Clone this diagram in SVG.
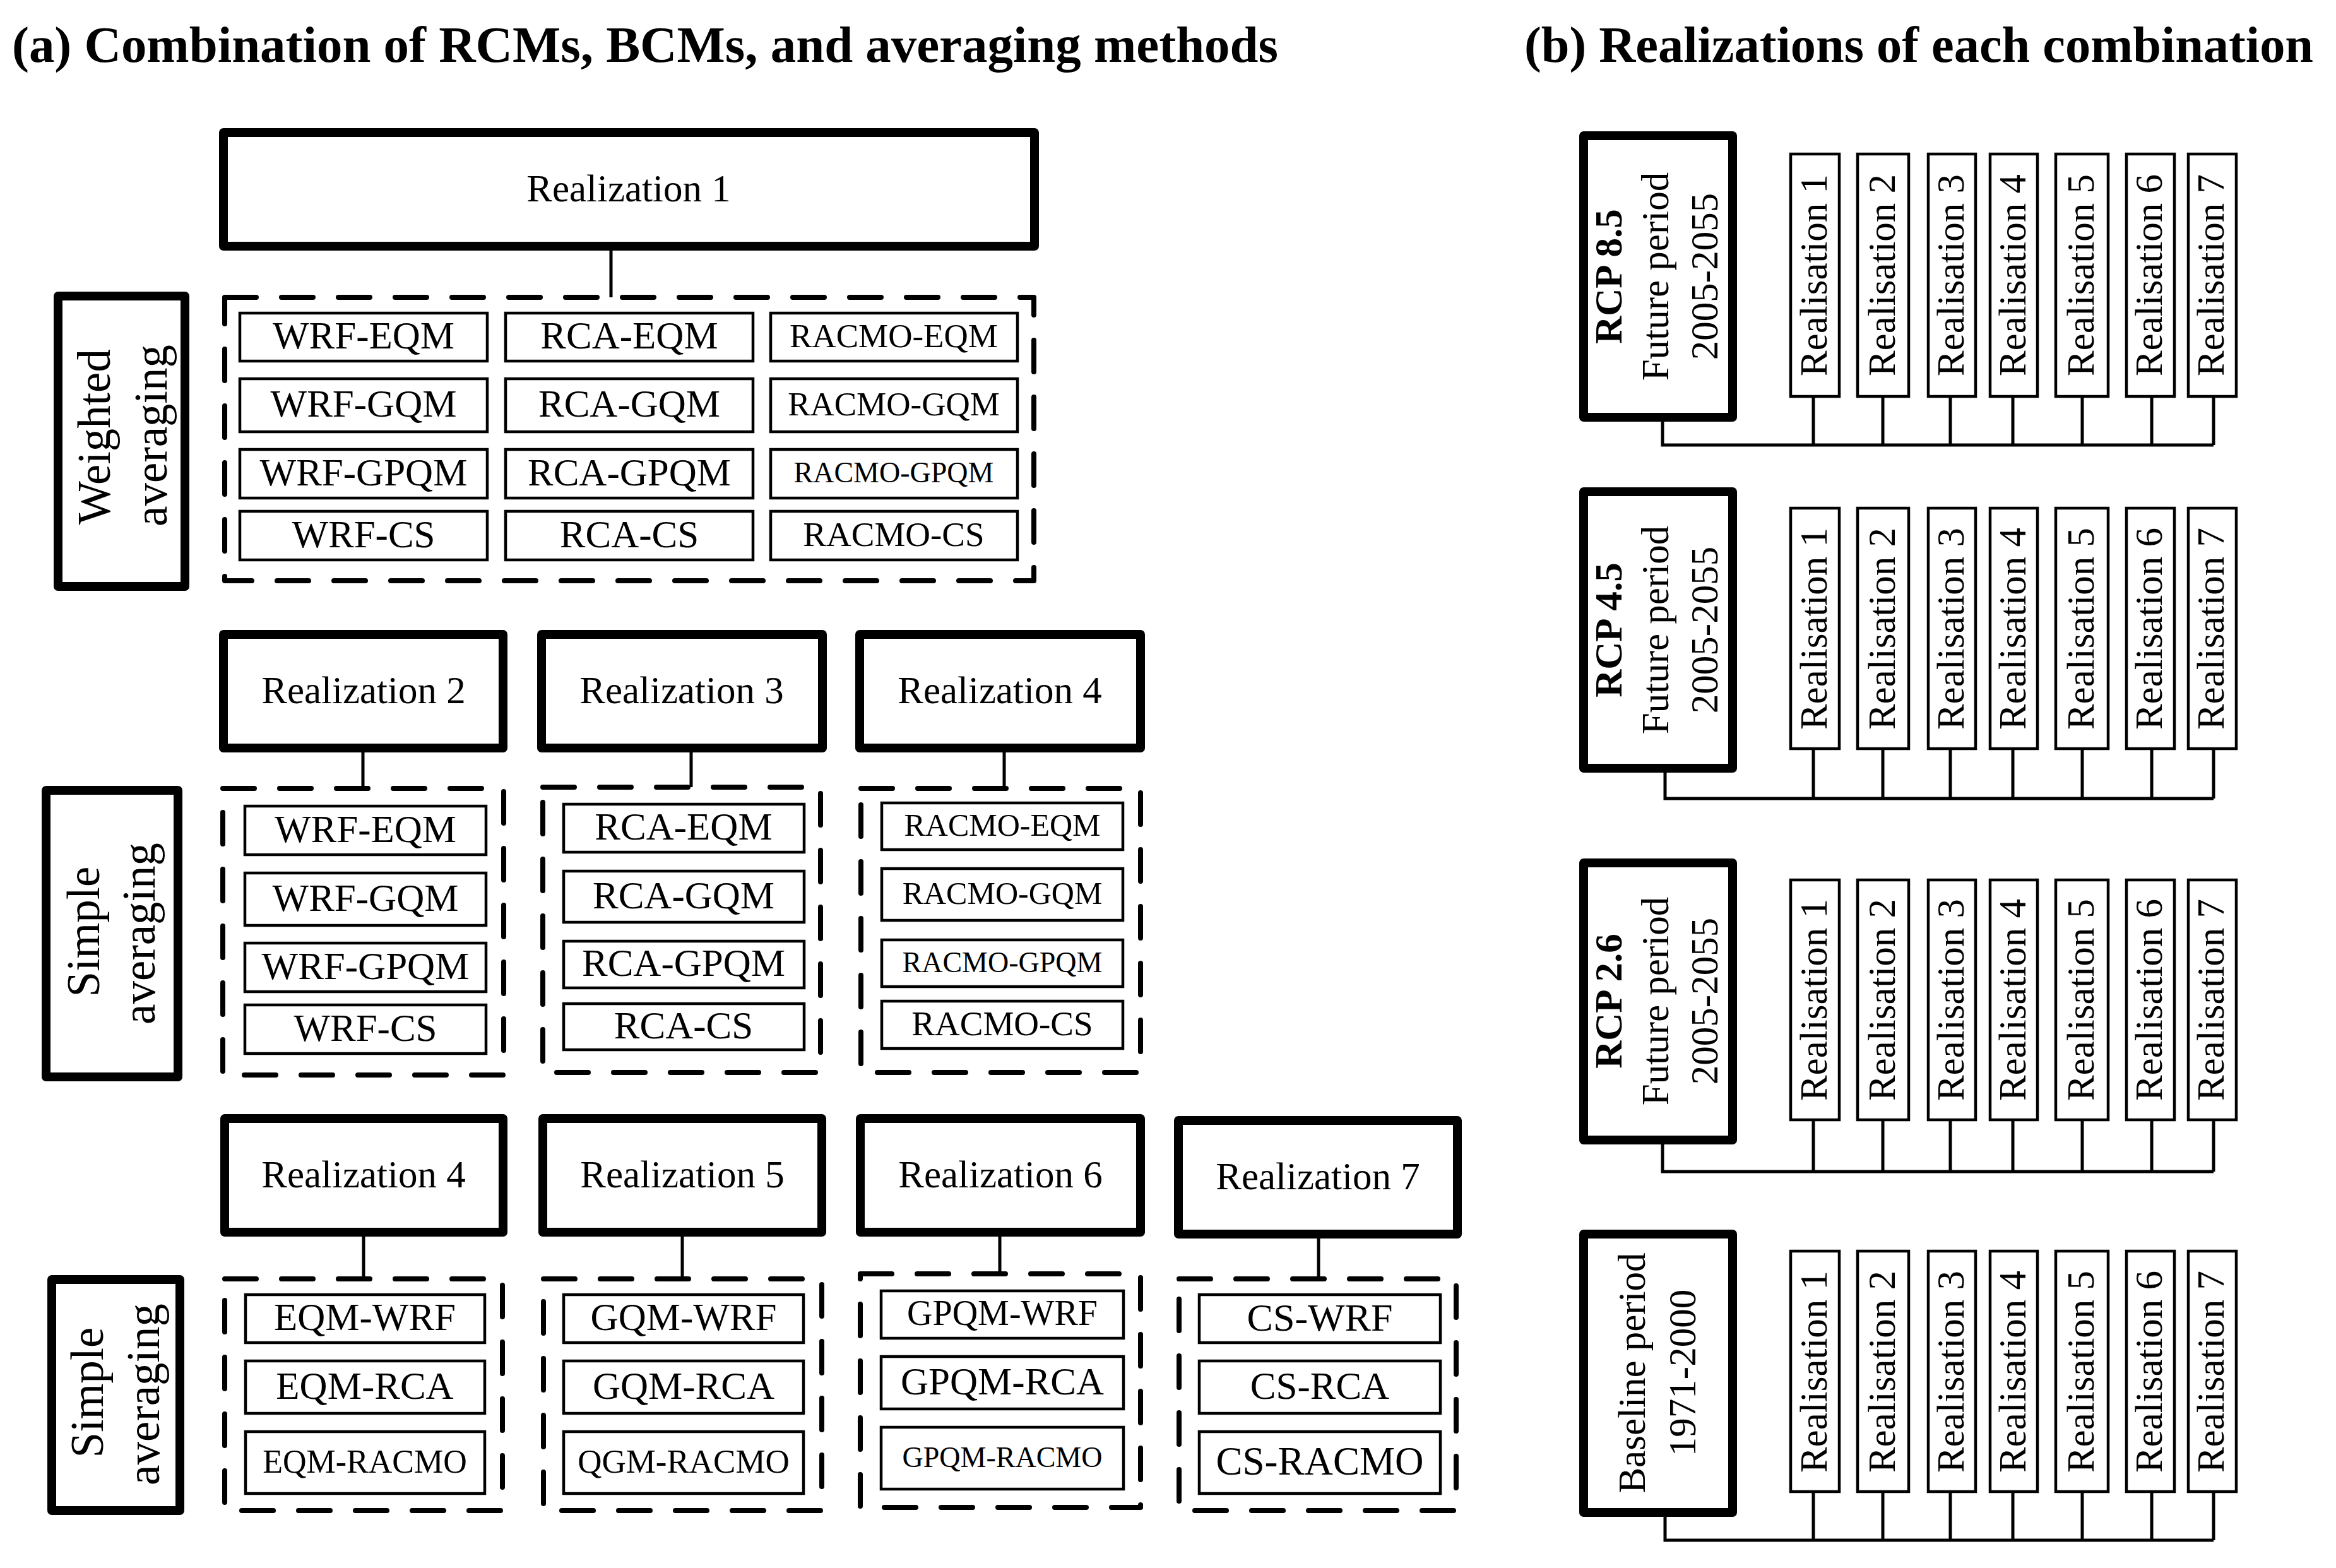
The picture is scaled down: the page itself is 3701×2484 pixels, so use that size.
<svg xmlns="http://www.w3.org/2000/svg" width="3701" height="2484" viewBox="0 0 3701 2484">
<style>
.thick{fill:#fff;stroke:#000;stroke-width:14;stroke-linejoin:round}
.dash{fill:none;stroke:#000;stroke-width:8;stroke-dasharray:50 40;stroke-linecap:round;stroke-linejoin:round}
.item{fill:#fff;stroke:#000;stroke-width:4.5}
.conn{fill:none;stroke:#000;stroke-width:5}
text{font-family:"Liberation Serif","Times New Roman",serif;fill:#000;text-anchor:middle}
.title{font-size:80px;font-weight:bold;text-anchor:start}
.f61{font-size:61px}
.side{font-size:73px}
.b{font-weight:bold}
</style>
<rect width="3701" height="2484" fill="#fff"/>
<text class="title" x="19" y="98" textLength="2006" lengthAdjust="spacingAndGlyphs">(a) Combination of RCMs, BCMs, and averaging methods</text>
<text class="title" x="2415" y="98" textLength="1250" lengthAdjust="spacingAndGlyphs">(b) Realizations of each combination</text>

<g id="connectors">
<path class="conn" d="M968 397V471M575 1192V1249M1095 1192V1247M1591 1192V1249M576 1959V2026M1081 1959V2026M1584 1959V2018M2089 1962V2026"/>
<path class="conn" d="M2634 668V705H3507M2873 628V705M2983 628V705M3090 628V705M3189 628V705M3299 628V705M3409 628V705M3507 628V705"/>
<path class="conn" d="M2638 1224V1265H3507M2873 1186V1265M2983 1186V1265M3090 1186V1265M3189 1186V1265M3299 1186V1265M3409 1186V1265M3507 1186V1265"/>
<path class="conn" d="M2634 1813V1856H3507M2873 1774V1856M2983 1774V1856M3090 1774V1856M3189 1774V1856M3299 1774V1856M3409 1774V1856M3507 1774V1856"/>
<path class="conn" d="M2638 2403V2440H3507M2873 2363V2440M2983 2363V2440M3090 2363V2440M3189 2363V2440M3299 2363V2440M3409 2363V2440M3507 2363V2440"/>
</g>

<!-- Row 1 -->
<g id="real1"><rect class="thick" x="354" y="210" width="1285" height="180"/><text class="f61" x="996" y="319">Realization 1</text></g>
<g id="weighted"><rect class="thick" x="92" y="469" width="201" height="460"/>
<text class="side" transform="translate(174,692) rotate(-90)">Weighted</text>
<text class="side" transform="translate(264,690) rotate(-90)">averaging</text></g>
<g id="group1"><rect class="dash" x="356" y="471" width="1282" height="449"/>
<rect class="item" x="380" y="496" width="392" height="76"/><text class="f61" x="576" y="552">WRF-EQM</text>
<rect class="item" x="801" y="496" width="392" height="76"/><text class="f61" x="997" y="552">RCA-EQM</text>
<rect class="item" x="1221" y="496" width="391" height="76"/><text x="1416" y="550" font-size="53">RACMO-EQM</text>
<rect class="item" x="380" y="600" width="392" height="84"/><text class="f61" x="576" y="660">WRF-GQM</text>
<rect class="item" x="801" y="600" width="392" height="84"/><text class="f61" x="997" y="660">RCA-GQM</text>
<rect class="item" x="1221" y="600" width="391" height="84"/><text x="1416" y="658" font-size="53">RACMO-GQM</text>
<rect class="item" x="380" y="712" width="392" height="77"/><text class="f61" x="576" y="769">WRF-GPQM</text>
<rect class="item" x="801" y="712" width="392" height="77"/><text class="f61" x="997" y="769">RCA-GPQM</text>
<rect class="item" x="1221" y="712" width="391" height="77"/><text x="1416" y="764" font-size="46">RACMO-GPQM</text>
<rect class="item" x="380" y="810" width="392" height="77"/><text class="f61" x="576" y="867">WRF-CS</text>
<rect class="item" x="801" y="810" width="392" height="77"/><text class="f61" x="997" y="867">RCA-CS</text>
<rect class="item" x="1221" y="810" width="391" height="77"/><text x="1416" y="865" font-size="55">RACMO-CS</text>
</g>

<!-- Row 2 -->
<g id="real2"><rect class="thick" x="354" y="1005" width="443" height="180"/><text class="f61" x="576" y="1114">Realization 2</text></g>
<g id="real3"><rect class="thick" x="858" y="1005" width="445" height="180"/><text class="f61" x="1080" y="1114">Realization 3</text></g>
<g id="real4a"><rect class="thick" x="1362" y="1005" width="445" height="180"/><text class="f61" x="1584" y="1114">Realization 4</text></g>
<g id="simple1"><rect class="thick" x="73" y="1252" width="209" height="454"/>
<text class="side" transform="translate(157,1476) rotate(-90)">Simple</text>
<text class="side" transform="translate(245,1479) rotate(-90)">averaging</text></g>
<g id="group2"><rect class="dash" x="353" y="1249" width="445" height="454"/>
<rect class="item" x="388" y="1277" width="382" height="77"/><text class="f61" x="579" y="1334">WRF-EQM</text>
<rect class="item" x="388" y="1383" width="382" height="83"/><text class="f61" x="579" y="1443">WRF-GQM</text>
<rect class="item" x="388" y="1494" width="382" height="77"/><text class="f61" x="579" y="1551">WRF-GPQM</text>
<rect class="item" x="388" y="1592" width="382" height="77"/><text class="f61" x="579" y="1649">WRF-CS</text>
</g>
<g id="group3"><rect class="dash" x="860" y="1247" width="440" height="452"/>
<rect class="item" x="893" y="1274" width="381" height="76"/><text class="f61" x="1083" y="1330">RCA-EQM</text>
<rect class="item" x="893" y="1380" width="381" height="81"/><text class="f61" x="1083" y="1439">RCA-GQM</text>
<rect class="item" x="893" y="1491" width="381" height="74"/><text class="f61" x="1083" y="1546">RCA-GPQM</text>
<rect class="item" x="893" y="1590" width="381" height="73"/><text class="f61" x="1083" y="1645">RCA-CS</text>
</g>
<g id="group4"><rect class="dash" x="1364" y="1249" width="443" height="450"/>
<rect class="item" x="1397" y="1272" width="382" height="74"/><text x="1588" y="1324" font-size="50">RACMO-EQM</text>
<rect class="item" x="1397" y="1376" width="382" height="82"/><text x="1588" y="1432" font-size="50">RACMO-GQM</text>
<rect class="item" x="1397" y="1489" width="382" height="74"/><text x="1588" y="1540" font-size="46">RACMO-GPQM</text>
<rect class="item" x="1397" y="1586" width="382" height="75"/><text x="1588" y="1640" font-size="55">RACMO-CS</text>
</g>

<!-- Row 3 -->
<g id="real4b"><rect class="thick" x="356" y="1772" width="441" height="180"/><text class="f61" x="576" y="1881">Realization 4</text></g>
<g id="real5"><rect class="thick" x="860" y="1772" width="442" height="180"/><text class="f61" x="1081" y="1881">Realization 5</text></g>
<g id="real6"><rect class="thick" x="1363" y="1772" width="444" height="180"/><text class="f61" x="1585" y="1881">Realization 6</text></g>
<g id="real7"><rect class="thick" x="1867" y="1775" width="442" height="180"/><text class="f61" x="2088" y="1884">Realization 7</text></g>
<g id="simple2"><rect class="thick" x="82" y="2027" width="203" height="366"/>
<text class="side" transform="translate(163,2206) rotate(-90)">Simple</text>
<text class="side" transform="translate(252,2209) rotate(-90)">averaging</text></g>
<g id="group5"><rect class="dash" x="356" y="2026" width="440" height="367"/>
<rect class="item" x="389" y="2051" width="379" height="76"/><text class="f61" x="578" y="2107">EQM-WRF</text>
<rect class="item" x="389" y="2156" width="379" height="83"/><text class="f61" x="578" y="2216">EQM-RCA</text>
<rect class="item" x="389" y="2268" width="379" height="98"/><text x="578" y="2333" font-size="52">EQM-RACMO</text>
</g>
<g id="group6"><rect class="dash" x="861" y="2026" width="441" height="367"/>
<rect class="item" x="893" y="2051" width="380" height="76"/><text class="f61" x="1083" y="2107">GQM-WRF</text>
<rect class="item" x="893" y="2156" width="380" height="83"/><text class="f61" x="1083" y="2216">GQM-RCA</text>
<rect class="item" x="893" y="2268" width="380" height="98"/><text x="1083" y="2333" font-size="53">QGM-RACMO</text>
</g>
<g id="group7"><rect class="dash" x="1363" y="2018" width="444" height="370"/>
<rect class="item" x="1396" y="2045" width="384" height="75"/><text x="1588" y="2099" font-size="56">GPQM-WRF</text>
<rect class="item" x="1396" y="2149" width="384" height="83"/><text class="f61" x="1588" y="2209">GPQM-RCA</text>
<rect class="item" x="1396" y="2261" width="384" height="98"/><text x="1588" y="2324" font-size="46">GPQM-RACMO</text>
</g>
<g id="group8"><rect class="dash" x="1868" y="2026" width="439" height="367"/>
<rect class="item" x="1900" y="2051" width="382" height="76"/><text x="2091" y="2108" font-size="62">CS-WRF</text>
<rect class="item" x="1900" y="2156" width="382" height="83"/><text class="f61" x="2091" y="2216">CS-RCA</text>
<rect class="item" x="1900" y="2268" width="382" height="98"/><text x="2091" y="2336" font-size="63">CS-RACMO</text>
</g>

<!-- Panel b -->
<g id="rcp85"><rect class="thick" x="2509" y="215" width="236" height="446"/>
<text class="f61 b" transform="translate(2569,438) rotate(-90)">RCP 8.5</text>
<text class="f61" transform="translate(2643,438) rotate(-90)">Future period</text>
<text class="f61" transform="translate(2721,438) rotate(-90)">2005-2055</text></g>
<g id="rcp85-real">
<rect class="item" x="2837" y="244" width="77" height="384"/><text class="f61" transform="translate(2894,436) rotate(-90)">Realisation 1</text>
<rect class="item" x="2943" y="244" width="81" height="384"/><text class="f61" transform="translate(3002,436) rotate(-90)">Realisation 2</text>
<rect class="item" x="3055" y="244" width="75" height="384"/><text class="f61" transform="translate(3111,436) rotate(-90)">Realisation 3</text>
<rect class="item" x="3153" y="244" width="75" height="384"/><text class="f61" transform="translate(3209,436) rotate(-90)">Realisation 4</text>
<rect class="item" x="3257" y="244" width="83" height="384"/><text class="f61" transform="translate(3317,436) rotate(-90)">Realisation 5</text>
<rect class="item" x="3369" y="244" width="76" height="384"/><text class="f61" transform="translate(3425,436) rotate(-90)">Realisation 6</text>
<rect class="item" x="3467" y="244" width="76" height="384"/><text class="f61" transform="translate(3523,436) rotate(-90)">Realisation 7</text>
</g>

<g id="rcp45"><rect class="thick" x="2509" y="779" width="236" height="438"/>
<text class="f61 b" transform="translate(2569,998) rotate(-90)">RCP 4.5</text>
<text class="f61" transform="translate(2643,998) rotate(-90)">Future period</text>
<text class="f61" transform="translate(2721,998) rotate(-90)">2005-2055</text></g>
<g id="rcp45-real">
<rect class="item" x="2837" y="805" width="77" height="381"/><text class="f61" transform="translate(2894,996) rotate(-90)">Realisation 1</text>
<rect class="item" x="2943" y="805" width="81" height="381"/><text class="f61" transform="translate(3002,996) rotate(-90)">Realisation 2</text>
<rect class="item" x="3055" y="805" width="75" height="381"/><text class="f61" transform="translate(3111,996) rotate(-90)">Realisation 3</text>
<rect class="item" x="3153" y="805" width="75" height="381"/><text class="f61" transform="translate(3209,996) rotate(-90)">Realisation 4</text>
<rect class="item" x="3257" y="805" width="83" height="381"/><text class="f61" transform="translate(3317,996) rotate(-90)">Realisation 5</text>
<rect class="item" x="3369" y="805" width="76" height="381"/><text class="f61" transform="translate(3425,996) rotate(-90)">Realisation 6</text>
<rect class="item" x="3467" y="805" width="76" height="381"/><text class="f61" transform="translate(3523,996) rotate(-90)">Realisation 7</text>
</g>

<g id="rcp26"><rect class="thick" x="2509" y="1367" width="236" height="439"/>
<text class="f61 b" transform="translate(2569,1586) rotate(-90)">RCP 2.6</text>
<text class="f61" transform="translate(2643,1586) rotate(-90)">Future period</text>
<text class="f61" transform="translate(2721,1586) rotate(-90)">2005-2055</text></g>
<g id="rcp26-real">
<rect class="item" x="2837" y="1394" width="77" height="380"/><text class="f61" transform="translate(2894,1584) rotate(-90)">Realisation 1</text>
<rect class="item" x="2943" y="1394" width="81" height="380"/><text class="f61" transform="translate(3002,1584) rotate(-90)">Realisation 2</text>
<rect class="item" x="3055" y="1394" width="75" height="380"/><text class="f61" transform="translate(3111,1584) rotate(-90)">Realisation 3</text>
<rect class="item" x="3153" y="1394" width="75" height="380"/><text class="f61" transform="translate(3209,1584) rotate(-90)">Realisation 4</text>
<rect class="item" x="3257" y="1394" width="83" height="380"/><text class="f61" transform="translate(3317,1584) rotate(-90)">Realisation 5</text>
<rect class="item" x="3369" y="1394" width="76" height="380"/><text class="f61" transform="translate(3425,1584) rotate(-90)">Realisation 6</text>
<rect class="item" x="3467" y="1394" width="76" height="380"/><text class="f61" transform="translate(3523,1584) rotate(-90)">Realisation 7</text>
</g>

<g id="baseline"><rect class="thick" x="2509" y="1955" width="236" height="441"/>
<text class="f61" transform="translate(2606,2175) rotate(-90)">Baseline period</text>
<text class="f61" transform="translate(2686,2175) rotate(-90)">1971-2000</text></g>
<g id="baseline-real">
<rect class="item" x="2837" y="1982" width="77" height="381"/><text class="f61" transform="translate(2894,2173) rotate(-90)">Realisation 1</text>
<rect class="item" x="2943" y="1982" width="81" height="381"/><text class="f61" transform="translate(3002,2173) rotate(-90)">Realisation 2</text>
<rect class="item" x="3055" y="1982" width="75" height="381"/><text class="f61" transform="translate(3111,2173) rotate(-90)">Realisation 3</text>
<rect class="item" x="3153" y="1982" width="75" height="381"/><text class="f61" transform="translate(3209,2173) rotate(-90)">Realisation 4</text>
<rect class="item" x="3257" y="1982" width="83" height="381"/><text class="f61" transform="translate(3317,2173) rotate(-90)">Realisation 5</text>
<rect class="item" x="3369" y="1982" width="76" height="381"/><text class="f61" transform="translate(3425,2173) rotate(-90)">Realisation 6</text>
<rect class="item" x="3467" y="1982" width="76" height="381"/><text class="f61" transform="translate(3523,2173) rotate(-90)">Realisation 7</text>
</g>
</svg>
